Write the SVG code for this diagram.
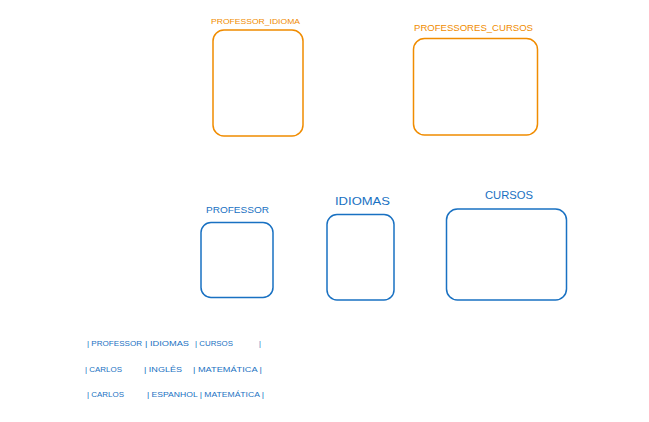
<svg xmlns="http://www.w3.org/2000/svg" width="649" height="422" viewBox="0 0 649 422">
<style>
.o{fill:none;stroke:#f08c00;stroke-width:1.5}
.b{fill:none;stroke:#1971c2;stroke-width:1.5}
.to{fill:#f08c00;font-family:"Liberation Sans",Arial,sans-serif}
.tb{fill:#1971c2;font-family:"Liberation Sans",Arial,sans-serif}
.t{fill:#1971c2;font-family:"Liberation Sans",Arial,sans-serif;font-size:7.5px}
</style>
<rect width="649" height="422" fill="#ffffff"/>
<g id="professor_idioma">
<rect class="o" x="213" y="30" width="90" height="106" rx="11"/>
<text class="to" x="211" y="24" font-size="8" textLength="89" lengthAdjust="spacingAndGlyphs">PROFESSOR_IDIOMA</text>
</g>
<g id="professores_cursos">
<rect class="o" x="413.5" y="38.5" width="124" height="96.5" rx="11"/>
<text class="to" x="414" y="31" font-size="9.5" textLength="119" lengthAdjust="spacingAndGlyphs">PROFESSORES_CURSOS</text>
</g>
<g id="professor">
<rect class="b" x="201" y="222.5" width="72" height="75" rx="10"/>
<text class="tb" x="206" y="213" font-size="9.5" textLength="63" lengthAdjust="spacingAndGlyphs">PROFESSOR</text>
</g>
<g id="idiomas">
<rect class="b" x="327" y="214.5" width="67" height="85.5" rx="10"/>
<text class="tb" x="335" y="205" font-size="10.5" textLength="55" lengthAdjust="spacingAndGlyphs">IDIOMAS</text>
</g>
<g id="cursos">
<rect class="b" x="446.5" y="209" width="120" height="91" rx="11"/>
<text class="tb" x="485" y="199" font-size="10.5" textLength="48" lengthAdjust="spacingAndGlyphs">CURSOS</text>
</g>
<g id="connectors"></g>
<g id="tabela">
<text class="t" x="87" y="346" textLength="55" lengthAdjust="spacingAndGlyphs">| PROFESSOR</text>
<text class="t" x="145" y="346" textLength="44" lengthAdjust="spacingAndGlyphs">| IDIOMAS</text>
<text class="t" x="195" y="346" textLength="38" lengthAdjust="spacingAndGlyphs">| CURSOS</text>
<text class="t" x="259" y="346">|</text>
<text class="t" x="85" y="372" textLength="37" lengthAdjust="spacingAndGlyphs">| CARLOS</text>
<text class="t" x="144" y="372" textLength="38" lengthAdjust="spacingAndGlyphs">| INGLÊS</text>
<text class="t" x="193" y="372" textLength="69" lengthAdjust="spacingAndGlyphs">| MATEMÁTICA |</text>
<text class="t" x="87" y="397" textLength="37" lengthAdjust="spacingAndGlyphs">| CARLOS</text>
<text class="t" x="147" y="397" textLength="117" lengthAdjust="spacingAndGlyphs">| ESPANHOL | MATEMÁTICA |</text>
</g>
</svg>
